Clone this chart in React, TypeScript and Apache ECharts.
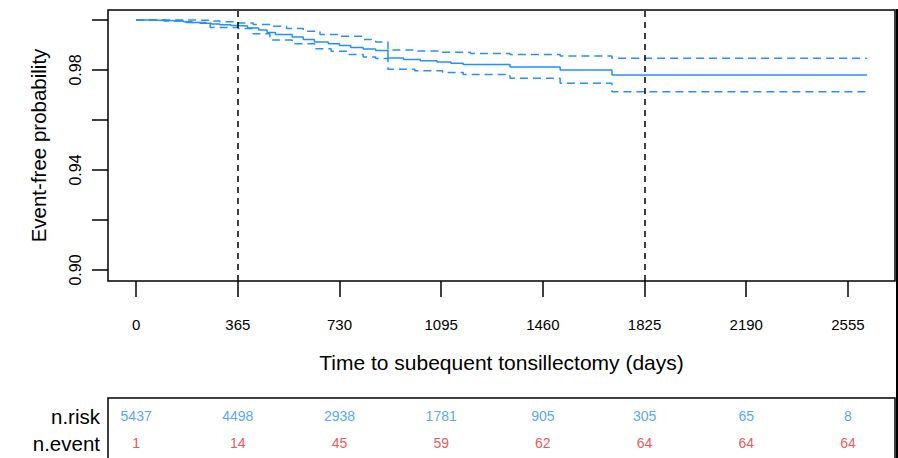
import React, { useEffect, useRef } from "react";
import * as echarts from "echarts";

// ---- data ----
const timeTicks = [0, 365, 730, 1095, 1460, 1825, 2190, 2555];
const nRisk = [5437, 4498, 2938, 1781, 905, 305, 65, 8];
const nEvent = [1, 14, 45, 59, 62, 64, 64, 64];
const yTicks = [0.9, 0.92, 0.94, 0.96, 0.98, 1.0];
const yTickLabels = [0.9, 0.94, 0.98];
const refDays = [365, 1825];
const tableRows = ["n.risk", "n.event"];

const estTimes = [0, 60, 120, 170, 200, 230, 270, 300, 340, 365, 400, 440, 470, 500, 560, 600, 640, 690, 730, 770, 815, 860, 904, 960, 1020, 1080, 1130, 1174, 1342, 1522, 1708, 2624];
const estValues = [1.0, 0.9998, 0.9996, 0.9993, 0.999, 0.9987, 0.9984, 0.9981, 0.9978, 0.9976, 0.9968, 0.996, 0.995, 0.9942, 0.9932, 0.9922, 0.9912, 0.9905, 0.9898, 0.989, 0.9884, 0.9878, 0.9848, 0.9842, 0.9837, 0.9832, 0.9827, 0.9822, 0.9812, 0.98, 0.978, 0.978];

const upTimes = [0, 200, 266, 300, 365, 420, 480, 540, 600, 660, 730, 815, 860, 904, 1000, 1100, 1200, 1342, 1522, 1708, 2624];
const upValues = [1.0, 0.9999, 0.9996, 0.9993, 0.9988, 0.9982, 0.9975, 0.9966, 0.9955, 0.9942, 0.9935, 0.9922, 0.9912, 0.988, 0.9876, 0.9871, 0.9866, 0.9862, 0.9856, 0.9847, 0.9847];

const loTimes = [0, 100, 180, 266, 365, 420, 480, 560, 640, 700, 760, 815, 860, 904, 1000, 1100, 1174, 1342, 1522, 1708, 2624];
const loValues = [1.0, 0.9996, 0.999, 0.997, 0.9966, 0.9945, 0.992, 0.9905, 0.9885, 0.9875, 0.9862, 0.9852, 0.9846, 0.9803, 0.9797, 0.979, 0.9782, 0.9767, 0.9747, 0.9713, 0.9713];

const BLUE = "#2790f2";
const RED = "#ea2a30";
const FONT = "'Liberation Sans', Arial, Helvetica, sans-serif";

const pairs = (xs: number[], ys: number[]) => xs.map((x, i) => [x, ys[i]]);

export default function App() {
  const ref = useRef<HTMLDivElement>(null);
  useEffect(() => {
    if (!ref.current) return;
    const chart = echarts.init(ref.current, undefined, { renderer: "svg" });
    const xMin = -101;
    const xMax = 2724;
    chart.setOption({
      animation: false,
      backgroundColor: "#ffffff",
      textStyle: { fontFamily: FONT },
      grid: [
        { left: 108, top: 10, width: 787, height: 271, show: true, borderColor: "#000", borderWidth: 1.5, backgroundColor: "transparent" },
        { left: 108, top: 416, width: 787, height: 27, show: false },
      ],
      xAxis: [
        {
          type: "value", gridIndex: 0, min: xMin, max: xMax,
          splitLine: { show: false },
          axisLine: { show: false, onZero: false },
          axisTick: { show: true, customValues: timeTicks, length: 16, lineStyle: { color: "#000", width: 1.5 } },
          axisLabel: { customValues: timeTicks, margin: 36, fontSize: 15, color: "#000", fontFamily: FONT, formatter: (v: number) => String(v) },
          name: "Time to subequent tonsillectomy (days)",
          nameLocation: "middle", nameGap: 71,
          nameTextStyle: { fontSize: 21, color: "#000", fontFamily: FONT },
        },
        { type: "value", gridIndex: 1, min: xMin, max: xMax, show: false },
      ],
      yAxis: [
        {
          type: "value", gridIndex: 0, min: 0.8956, max: 1.004,
          splitLine: { show: false },
          axisLine: { show: false, onZero: false },
          axisTick: { show: true, customValues: yTicks, length: 16, lineStyle: { color: "#000", width: 1.5 } },
          axisLabel: { customValues: yTickLabels, rotate: 90, margin: 25, fontSize: 16, color: "#000", fontFamily: FONT, formatter: (v: number) => v.toFixed(2) },
          name: "Event-free probability",
          nameLocation: "middle", nameGap: 59, nameRotate: 90,
          nameTextStyle: { fontSize: 20.5, color: "#000", fontFamily: FONT },
        },
        {
          type: "category", gridIndex: 1, data: tableRows, inverse: true, boundaryGap: false,
          axisLine: { show: false, onZero: false }, axisTick: { show: false },
          axisLabel: { interval: 0, hideOverlap: false, margin: 8, fontSize: 20.5, color: "#000", fontFamily: FONT },
        },
      ],
      series: [
        {
          type: "line", step: "end", showSymbol: false, data: pairs(estTimes, estValues),
          lineStyle: { color: BLUE, width: 1.5 }, silent: true,
          markLine: {
            silent: true, symbol: ["none", "none"], label: { show: false },
            lineStyle: { color: "#000", type: [6, 5], width: 1.5 },
            data: refDays.map((d) => ({ xAxis: d })),
          },
        },
        { type: "line", step: "end", showSymbol: false, data: pairs(upTimes, upValues), lineStyle: { color: BLUE, width: 1.5, type: [8, 5] }, silent: true },
        { type: "line", step: "end", showSymbol: false, data: pairs(loTimes, loValues), lineStyle: { color: BLUE, width: 1.5, type: [8, 5] }, silent: true },
        {
          type: "scatter", xAxisIndex: 1, yAxisIndex: 1, symbolSize: 0.1, silent: true,
          itemStyle: { color: "rgba(0,0,0,0)" },
          data: timeTicks.map((t, i) => [t, 0, nRisk[i]]),
          label: { show: true, position: "inside", color: BLUE, fontSize: 14, fontFamily: FONT, formatter: (p: any) => String(p.data[2]) },
        },
        {
          type: "scatter", xAxisIndex: 1, yAxisIndex: 1, symbolSize: 0.1, silent: true,
          itemStyle: { color: "rgba(0,0,0,0)" },
          data: timeTicks.map((t, i) => [t, 1, nEvent[i]]),
          label: { show: true, position: "inside", color: RED, fontSize: 14, fontFamily: FONT, formatter: (p: any) => String(p.data[2]) },
        },
      ],
      graphic: [
        { type: "rect", shape: { x: 108, y: 398, width: 787, height: 90 }, style: { fill: "none", stroke: "#000", lineWidth: 1.5 }, silent: true },
        { type: "rect", shape: { x: 896, y: 9, width: 2, height: 460 }, style: { fill: "#000" }, silent: true },
      ],
    });
    return () => chart.dispose();
  }, []);
  return <div ref={ref} style={{ position: "absolute", left: 0, top: 0, width: 898, height: 458 }} />;
}
